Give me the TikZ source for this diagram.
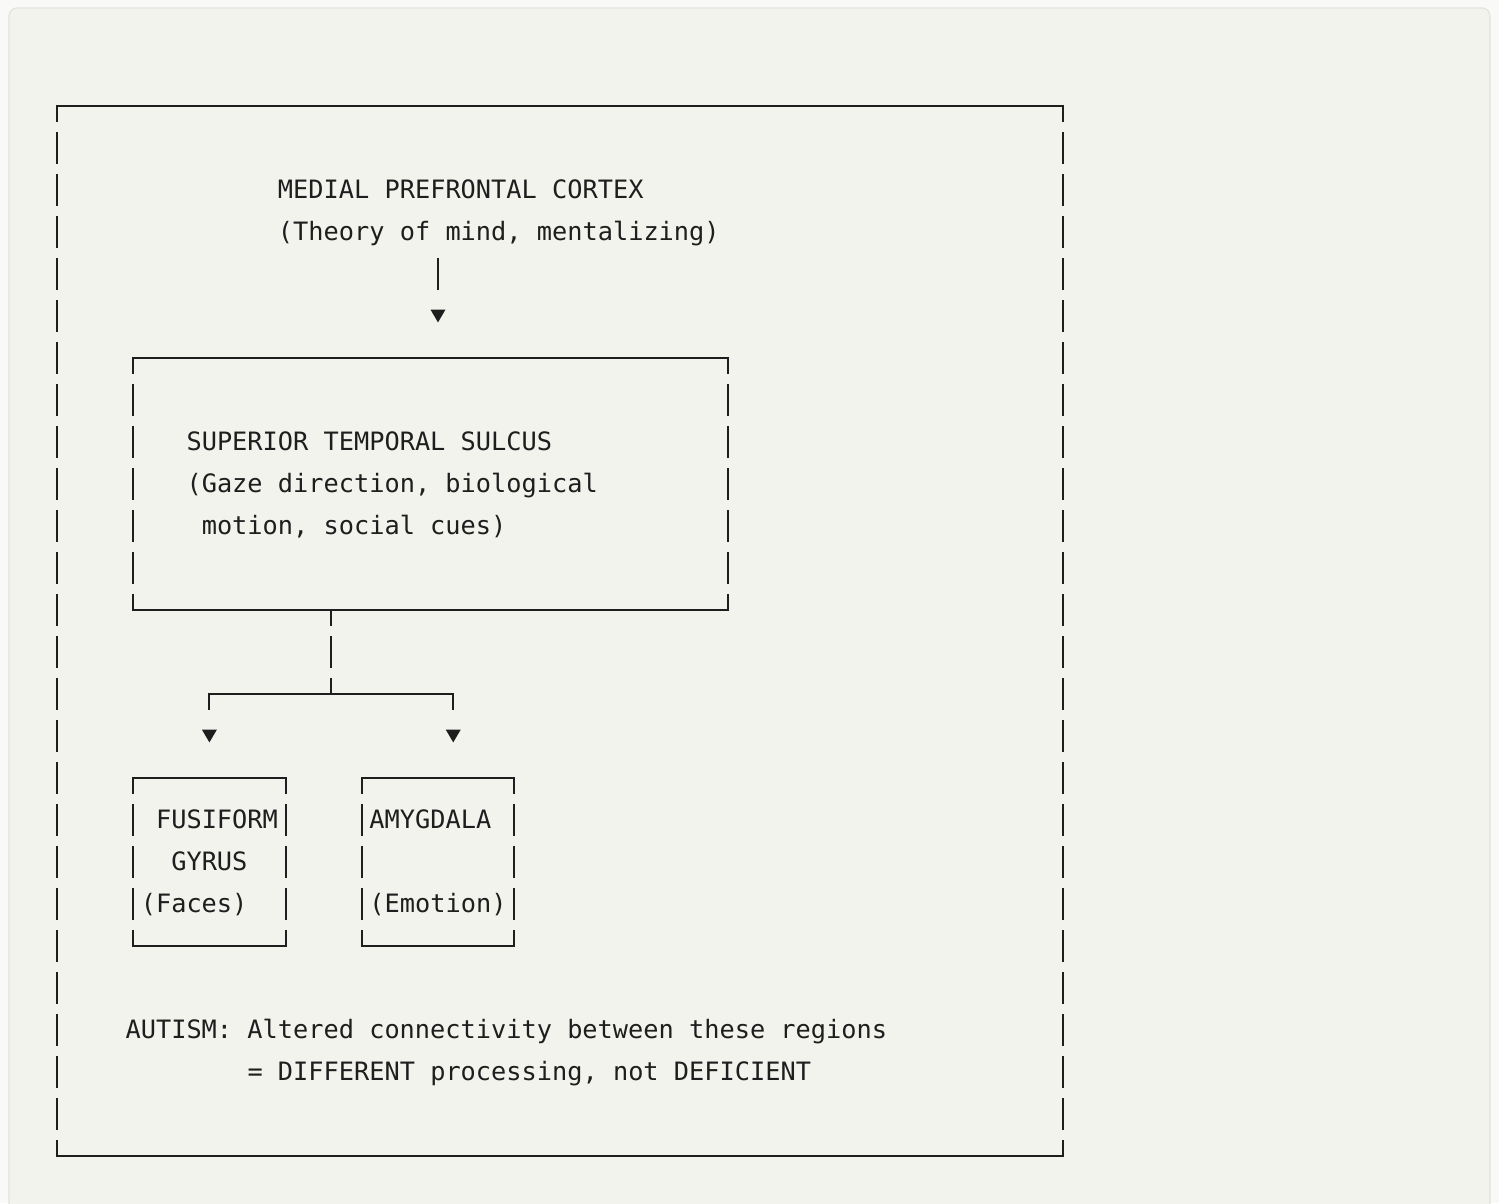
\documentclass[tikz,border=0pt]{standalone}
\usepackage{fontspec}
\newfontfamily\monof{DejaVu Sans Mono}
\definecolor{pagebg}{HTML}{F9F9F7}
\definecolor{panelbg}{HTML}{F3F3EE}
\definecolor{panelline}{HTML}{E2E2DE}
\definecolor{ink}{HTML}{1E1E1E}
\tikzset{
  hline/.style={draw=ink, line width=1.9pt, line cap=rect},
  vline/.style={draw=ink, line width=1.9pt, dash pattern=on 32pt off 10pt, dash phase=16pt},
  boxn/.style={draw=none, inner sep=0pt, outer sep=0pt},
  txt/.style={anchor=base west, inner sep=0pt, outer sep=0pt, text=ink, yshift=-8pt,
    font=\monof\fontsize{25.3}{30}\selectfont},
  tri/.style={fill=ink}
}
\newcommand\asciibox[1]{%
  \draw[hline] (#1.north west) -- (#1.north east) (#1.south west) -- (#1.south east);
  \draw[vline] (#1.north west) -- (#1.south west) (#1.north east) -- (#1.south east);}
\newcommand\downtri[1]{\fill[tri] (#1) ++(-7.5pt,6.4pt) -- ++(15pt,0pt) -- ++(-7.5pt,-12.8pt) -- cycle;}
\begin{document}
\begin{tikzpicture}[x=15.24pt, y=-42pt]
% page and panel (origin = centre of column 0, row 0 at px (57,106))
\fill[pagebg] (-57pt,106pt) rectangle (1442pt,-1097pt);
\useasboundingbox (-57pt,106pt) rectangle (1442pt,-1097pt);
\filldraw[fill=panelbg, draw=panelline, line width=1.2pt, rounded corners=8pt]
  (-48pt,98pt) rectangle (1433pt,-1115pt);

% boxes
\node[boxn, minimum width=1005.84pt, minimum height=1050pt] (outer) at (33,12.5) {};
\node[boxn, minimum width=594.36pt, minimum height=252pt] (sts) at (24.5,9) {};
\node[boxn, minimum width=152.4pt, minimum height=168pt] (fg) at (10,18) {};
\node[boxn, minimum width=152.4pt, minimum height=168pt] (am) at (25,18) {};
\asciibox{outer}
\asciibox{sts}
\asciibox{fg}
\asciibox{am}

% texts
\node[txt] (mpfcA) at (14.5,2) {MEDIAL PREFRONTAL CORTEX};
\node[txt] (mpfcB) at (14.5,3) {(Theory of mind, mentalizing)};
\node[txt] (stsA) at (8.5,8) {SUPERIOR TEMPORAL SULCUS};
\node[txt] (stsB) at (8.5,9) {(Gaze direction, biological};
\node[txt] (stsC) at (9.5,10) {motion, social cues)};
\node[txt] (fgA) at (6.5,17) {FUSIFORM};
\node[txt] (fgB) at (7.5,18) {GYRUS};
\node[txt] (fgC) at (5.5,19) {(Faces)};
\node[txt] (amA) at (20.5,17) {AMYGDALA};
\node[txt] (amB) at (20.5,19) {(Emotion)};
\node[txt] (autA) at (4.5,22) {AUTISM: Altered connectivity between these regions};
\node[txt] (autB) at (12.5,23) {= DIFFERENT processing, not DEFICIENT};

% connector MPFC -> STS
\coordinate (s1) at (25,4);
\coordinate (t1) at (25,5);
\draw[hline, line cap=butt] (s1) ++(0pt,16pt) -- ++(0pt,-32pt);
\downtri{t1}

% connector STS -> fusiform / amygdala
\coordinate (jtop) at (sts.south -| 18,0);
\coordinate (jmid) at (18,14);
\coordinate (bl) at (10,14);
\coordinate (br) at (26,14);
\coordinate (t2) at (10,15);
\coordinate (t3) at (26,15);
\draw[vline] (jtop) -- (jmid);
\draw[hline] (bl) -- (br);
\draw[hline, line cap=butt] (bl) -- ++(0pt,-16pt);
\draw[hline, line cap=butt] (br) -- ++(0pt,-16pt);
\downtri{t2}
\downtri{t3}
\end{tikzpicture}
\end{document}
